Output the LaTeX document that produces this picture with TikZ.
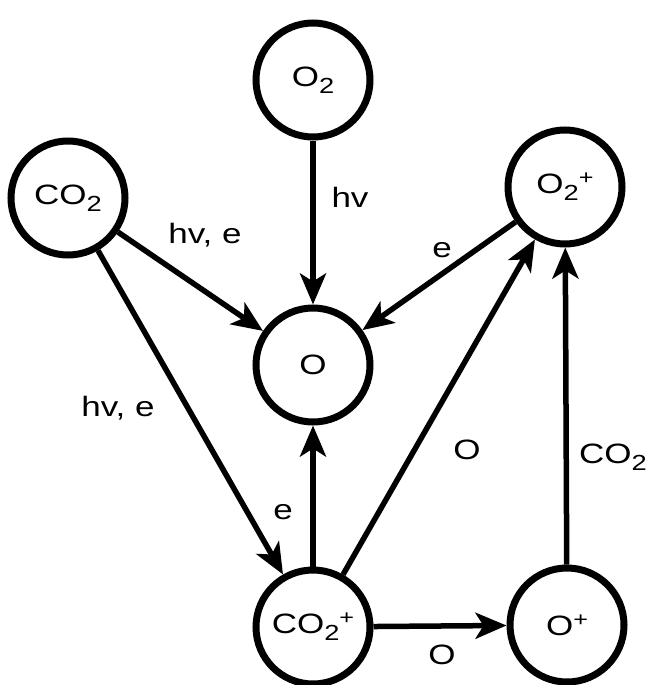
\documentclass[tikz,border=0pt]{standalone}
\usepackage{fontspec}
\setmainfont{Liberation Sans}[FakeStretch=1.25]
\usetikzlibrary{arrows.meta}
\newcommand\chsub[1]{\raisebox{-7pt}{\scalebox{0.78}{#1}}}
\newcommand\chsup[1]{\raisebox{9pt}{\scalebox{0.72}{#1}}}
\begin{document}
\begin{tikzpicture}[x=1pt,y=-1pt,
  species/.style={circle,draw,line width=7pt,minimum size=114pt,inner sep=0pt,font=\fontsize{28}{30}\selectfont},
  react/.style={line width=5.5pt,-{Stealth[length=31pt,width=26pt,inset=8pt]}},
  lbl/.style={font=\fontsize{28}{30}\selectfont,inner sep=0pt}]
\useasboundingbox (0,0) rectangle (653,685);
\node[species] (o2) at (313,80) {O\chsub{2}};
\node[species] (co2) at (68,198) {CO\chsub{2}};
\node[species] (o2p) at (565,187) {O\chsub{2}\chsup{+}};
\node[species] (o) at (313,365) {O};
\node[species] (co2p) at (313,627) {CO\chsub{2}\chsup{+}};
\node[species] (op) at (567,625) {O\chsup{+}};
\draw[react] (o2) -- (o);
\draw[react] (co2) -- (o);
\draw[react] (o2p) -- (o);
\draw[react] (co2) -- (co2p);
\draw[react] (co2p) -- (o);
\draw[react] (co2p) -- (o2p);
\draw[react] (co2p) -- (op);
\draw[react] (op) -- (o2p);
\node[lbl] (l1) at (350,197) {hv};
\node[lbl] (l2) at (205,235) {hv, e};
\node[lbl] (l3) at (442,250) {e};
\node[lbl] (l4) at (118,408) {hv, e};
\node[lbl] (l5) at (467,450) {O};
\node[lbl] (l6) at (283,512) {e};
\node[lbl] (l7) at (613,457) {CO\chsub{2}};
\node[lbl] (l8) at (442,655) {O};
\end{tikzpicture}
\end{document}
